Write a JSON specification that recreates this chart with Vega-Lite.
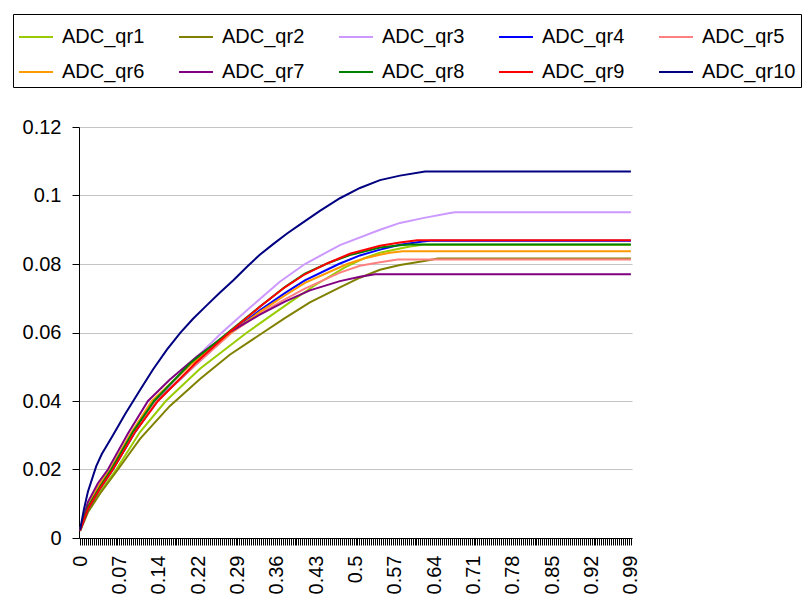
{
  "$schema": "https://vega.github.io/schema/vega-lite/v6.json",
  "width": 553,
  "height": 411,
  "autosize": {"type": "none"},
  "padding": {"left": 79, "top": 127, "right": 176, "bottom": 61},
  "background": "white",
  "config": {"font": "Liberation Sans", "view": {"stroke": null}},
  "data": {"values": [
    {"s":"ADC_qr1","t":0,"v":0.0022},{"s":"ADC_qr1","t":0.014,"v":0.008},{"s":"ADC_qr1","t":0.036,"v":0.0135},{"s":"ADC_qr1","t":0.065,"v":0.02},{"s":"ADC_qr1","t":0.108,"v":0.031},{"s":"ADC_qr1","t":0.154,"v":0.04},{"s":"ADC_qr1","t":0.216,"v":0.0495},{"s":"ADC_qr1","t":0.300,"v":0.06},{"s":"ADC_qr1","t":0.341,"v":0.0647},{"s":"ADC_qr1","t":0.377,"v":0.0688},{"s":"ADC_qr1","t":0.422,"v":0.0738},{"s":"ADC_qr1","t":0.476,"v":0.079},{"s":"ADC_qr1","t":0.512,"v":0.0818},{"s":"ADC_qr1","t":0.539,"v":0.0833},{"s":"ADC_qr1","t":0.575,"v":0.0845},{"s":"ADC_qr1","t":0.593,"v":0.0851},{"s":"ADC_qr1","t":0.616,"v":0.0856},{"s":"ADC_qr1","t":0.99,"v":0.0856},
    {"s":"ADC_qr2","t":0,"v":0.002},{"s":"ADC_qr2","t":0.014,"v":0.0075},{"s":"ADC_qr2","t":0.036,"v":0.013},{"s":"ADC_qr2","t":0.068,"v":0.02},{"s":"ADC_qr2","t":0.108,"v":0.029},{"s":"ADC_qr2","t":0.161,"v":0.0385},{"s":"ADC_qr2","t":0.216,"v":0.0465},{"s":"ADC_qr2","t":0.269,"v":0.0535},{"s":"ADC_qr2","t":0.329,"v":0.06},{"s":"ADC_qr2","t":0.368,"v":0.0642},{"s":"ADC_qr2","t":0.413,"v":0.0688},{"s":"ADC_qr2","t":0.467,"v":0.0732},{"s":"ADC_qr2","t":0.503,"v":0.076},{"s":"ADC_qr2","t":0.539,"v":0.0783},{"s":"ADC_qr2","t":0.575,"v":0.0797},{"s":"ADC_qr2","t":0.616,"v":0.0808},{"s":"ADC_qr2","t":0.643,"v":0.0816},{"s":"ADC_qr2","t":0.99,"v":0.0816},
    {"s":"ADC_qr3","t":0,"v":0.0025},{"s":"ADC_qr3","t":0.014,"v":0.0095},{"s":"ADC_qr3","t":0.036,"v":0.016},{"s":"ADC_qr3","t":0.057,"v":0.02},{"s":"ADC_qr3","t":0.090,"v":0.029},{"s":"ADC_qr3","t":0.136,"v":0.04},{"s":"ADC_qr3","t":0.198,"v":0.051},{"s":"ADC_qr3","t":0.255,"v":0.06},{"s":"ADC_qr3","t":0.305,"v":0.0672},{"s":"ADC_qr3","t":0.359,"v":0.0748},{"s":"ADC_qr3","t":0.404,"v":0.08},{"s":"ADC_qr3","t":0.467,"v":0.0855},{"s":"ADC_qr3","t":0.539,"v":0.09},{"s":"ADC_qr3","t":0.575,"v":0.092},{"s":"ADC_qr3","t":0.616,"v":0.0934},{"s":"ADC_qr3","t":0.665,"v":0.0949},{"s":"ADC_qr3","t":0.674,"v":0.0951},{"s":"ADC_qr3","t":0.99,"v":0.0951},
    {"s":"ADC_qr4","t":0,"v":0.0022},{"s":"ADC_qr4","t":0.014,"v":0.0085},{"s":"ADC_qr4","t":0.036,"v":0.0145},{"s":"ADC_qr4","t":0.059,"v":0.02},{"s":"ADC_qr4","t":0.099,"v":0.031},{"s":"ADC_qr4","t":0.138,"v":0.04},{"s":"ADC_qr4","t":0.207,"v":0.0505},{"s":"ADC_qr4","t":0.271,"v":0.06},{"s":"ADC_qr4","t":0.323,"v":0.0665},{"s":"ADC_qr4","t":0.368,"v":0.0715},{"s":"ADC_qr4","t":0.404,"v":0.0752},{"s":"ADC_qr4","t":0.465,"v":0.08},{"s":"ADC_qr4","t":0.503,"v":0.0825},{"s":"ADC_qr4","t":0.539,"v":0.0842},{"s":"ADC_qr4","t":0.575,"v":0.0856},{"s":"ADC_qr4","t":0.616,"v":0.0866},{"s":"ADC_qr4","t":0.629,"v":0.0868},{"s":"ADC_qr4","t":0.99,"v":0.0868},
    {"s":"ADC_qr5","t":0,"v":0.0025},{"s":"ADC_qr5","t":0.014,"v":0.009},{"s":"ADC_qr5","t":0.036,"v":0.015},{"s":"ADC_qr5","t":0.057,"v":0.02},{"s":"ADC_qr5","t":0.097,"v":0.031},{"s":"ADC_qr5","t":0.138,"v":0.04},{"s":"ADC_qr5","t":0.207,"v":0.0505},{"s":"ADC_qr5","t":0.273,"v":0.06},{"s":"ADC_qr5","t":0.323,"v":0.0655},{"s":"ADC_qr5","t":0.368,"v":0.0697},{"s":"ADC_qr5","t":0.404,"v":0.0728},{"s":"ADC_qr5","t":0.467,"v":0.0775},{"s":"ADC_qr5","t":0.503,"v":0.0795},{"s":"ADC_qr5","t":0.539,"v":0.0805},{"s":"ADC_qr5","t":0.571,"v":0.0813},{"s":"ADC_qr5","t":0.99,"v":0.0813},
    {"s":"ADC_qr6","t":0,"v":0.0025},{"s":"ADC_qr6","t":0.014,"v":0.0095},{"s":"ADC_qr6","t":0.036,"v":0.016},{"s":"ADC_qr6","t":0.054,"v":0.02},{"s":"ADC_qr6","t":0.091,"v":0.0305},{"s":"ADC_qr6","t":0.129,"v":0.04},{"s":"ADC_qr6","t":0.198,"v":0.0505},{"s":"ADC_qr6","t":0.271,"v":0.06},{"s":"ADC_qr6","t":0.323,"v":0.066},{"s":"ADC_qr6","t":0.368,"v":0.0708},{"s":"ADC_qr6","t":0.404,"v":0.0745},{"s":"ADC_qr6","t":0.480,"v":0.08},{"s":"ADC_qr6","t":0.512,"v":0.0817},{"s":"ADC_qr6","t":0.539,"v":0.0827},{"s":"ADC_qr6","t":0.557,"v":0.0833},{"s":"ADC_qr6","t":0.580,"v":0.0837},{"s":"ADC_qr6","t":0.99,"v":0.0837},
    {"s":"ADC_qr7","t":0,"v":0.0025},{"s":"ADC_qr7","t":0.014,"v":0.0105},{"s":"ADC_qr7","t":0.032,"v":0.016},{"s":"ADC_qr7","t":0.050,"v":0.02},{"s":"ADC_qr7","t":0.086,"v":0.0305},{"s":"ADC_qr7","t":0.122,"v":0.04},{"s":"ADC_qr7","t":0.161,"v":0.0462},{"s":"ADC_qr7","t":0.210,"v":0.053},{"s":"ADC_qr7","t":0.273,"v":0.0605},{"s":"ADC_qr7","t":0.323,"v":0.0652},{"s":"ADC_qr7","t":0.368,"v":0.069},{"s":"ADC_qr7","t":0.413,"v":0.0723},{"s":"ADC_qr7","t":0.467,"v":0.075},{"s":"ADC_qr7","t":0.503,"v":0.0763},{"s":"ADC_qr7","t":0.530,"v":0.077},{"s":"ADC_qr7","t":0.99,"v":0.077},
    {"s":"ADC_qr8","t":0,"v":0.0025},{"s":"ADC_qr8","t":0.014,"v":0.009},{"s":"ADC_qr8","t":0.036,"v":0.015},{"s":"ADC_qr8","t":0.056,"v":0.02},{"s":"ADC_qr8","t":0.095,"v":0.031},{"s":"ADC_qr8","t":0.133,"v":0.04},{"s":"ADC_qr8","t":0.198,"v":0.051},{"s":"ADC_qr8","t":0.266,"v":0.06},{"s":"ADC_qr8","t":0.323,"v":0.0675},{"s":"ADC_qr8","t":0.368,"v":0.0733},{"s":"ADC_qr8","t":0.404,"v":0.0772},{"s":"ADC_qr8","t":0.446,"v":0.0803},{"s":"ADC_qr8","t":0.485,"v":0.0826},{"s":"ADC_qr8","t":0.539,"v":0.0848},{"s":"ADC_qr8","t":0.575,"v":0.0855},{"s":"ADC_qr8","t":0.593,"v":0.0857},{"s":"ADC_qr8","t":0.99,"v":0.0857},
    {"s":"ADC_qr9","t":0,"v":0.0022},{"s":"ADC_qr9","t":0.014,"v":0.0085},{"s":"ADC_qr9","t":0.036,"v":0.0145},{"s":"ADC_qr9","t":0.059,"v":0.02},{"s":"ADC_qr9","t":0.099,"v":0.031},{"s":"ADC_qr9","t":0.140,"v":0.04},{"s":"ADC_qr9","t":0.207,"v":0.051},{"s":"ADC_qr9","t":0.268,"v":0.06},{"s":"ADC_qr9","t":0.323,"v":0.0675},{"s":"ADC_qr9","t":0.368,"v":0.0732},{"s":"ADC_qr9","t":0.404,"v":0.077},{"s":"ADC_qr9","t":0.446,"v":0.0803},{"s":"ADC_qr9","t":0.485,"v":0.083},{"s":"ADC_qr9","t":0.539,"v":0.0853},{"s":"ADC_qr9","t":0.575,"v":0.0863},{"s":"ADC_qr9","t":0.606,"v":0.0869},{"s":"ADC_qr9","t":0.99,"v":0.0869},
    {"s":"ADC_qr10","t":0,"v":0.0024},{"s":"ADC_qr10","t":0.007,"v":0.0085},{"s":"ADC_qr10","t":0.014,"v":0.0135},{"s":"ADC_qr10","t":0.029,"v":0.021},{"s":"ADC_qr10","t":0.039,"v":0.0245},{"s":"ADC_qr10","t":0.059,"v":0.03},{"s":"ADC_qr10","t":0.081,"v":0.0362},{"s":"ADC_qr10","t":0.108,"v":0.0433},{"s":"ADC_qr10","t":0.131,"v":0.0492},{"s":"ADC_qr10","t":0.156,"v":0.055},{"s":"ADC_qr10","t":0.180,"v":0.0599},{"s":"ADC_qr10","t":0.203,"v":0.064},{"s":"ADC_qr10","t":0.228,"v":0.068},{"s":"ADC_qr10","t":0.251,"v":0.0716},{"s":"ADC_qr10","t":0.275,"v":0.0752},{"s":"ADC_qr10","t":0.300,"v":0.0792},{"s":"ADC_qr10","t":0.323,"v":0.0827},{"s":"ADC_qr10","t":0.347,"v":0.0858},{"s":"ADC_qr10","t":0.372,"v":0.0889},{"s":"ADC_qr10","t":0.395,"v":0.0915},{"s":"ADC_qr10","t":0.431,"v":0.0955},{"s":"ADC_qr10","t":0.467,"v":0.0992},{"s":"ADC_qr10","t":0.503,"v":0.1022},{"s":"ADC_qr10","t":0.539,"v":0.1045},{"s":"ADC_qr10","t":0.575,"v":0.1058},{"s":"ADC_qr10","t":0.620,"v":0.107},{"s":"ADC_qr10","t":0.99,"v":0.107}
  ]},
  "mark": {"type": "line", "strokeWidth": 2, "clip": false},
  "encoding": {
    "x": {
      "field": "t", "type": "quantitative",
      "scale": {"domain": [-0.002, 0.992], "nice": false, "zero": false},
      "axis": {
        "title": null,
        "values": {"expr": "sequence(0, 0.9901, 0.99/280)"},
        "labelExpr": "round(datum.value*280/0.99) % 20 == 0 ? ['0','0.07','0.14','0.22','0.29','0.36','0.43','0.5','0.57','0.64','0.71','0.78','0.85','0.92','0.99'][round(datum.value*14/0.99)] : ''",
        "labelAngle": -90,
        "labelFontSize": 20,
        "labelColor": "black",
        "labelPadding": 10,
        "tickSize": 7,
        "tickColor": "black",
        "domainColor": "black",
        "grid": false,
        "labelOverlap": false,
        "labelFlush": false,
        "labelBound": false
      }
    },
    "y": {
      "field": "v", "type": "quantitative",
      "scale": {"domain": [0, 0.12], "nice": false},
      "axis": {
        "title": null,
        "values": [0, 0.02, 0.04, 0.06, 0.08, 0.1, 0.12],
        "labelExpr": "datum.value == 0 ? '0' : toString(round(datum.value*100)/100)",
        "labelFontSize": 20,
        "labelColor": "black",
        "labelPadding": 11,
        "tickSize": 7,
        "tickColor": "black",
        "domainColor": "black",
        "gridColor": "#c4c4c4",
        "labelOverlap": false
      }
    },
    "color": {
      "field": "s", "type": "nominal",
      "scale": {
        "domain": ["ADC_qr1","ADC_qr2","ADC_qr3","ADC_qr4","ADC_qr5","ADC_qr6","ADC_qr7","ADC_qr8","ADC_qr9","ADC_qr10"],
        "range": ["#99CC00","#808000","#CC99FF","#0000FF","#FF8080","#FF9900","#800080","#008000","#FF0000","#000080"]
      },
      "legend": {
        "title": null,
        "orient": "none",
        "legendX": -66,
        "legendY": -113,
        "direction": "horizontal",
        "columns": 5,
        "gridAlign": "all",
        "symbolType": "stroke",
        "symbolSize": 1156,
        "symbolStrokeWidth": 2,
        "labelFontSize": 20,
        "labelColor": "black",
        "labelOffset": 8,
        "labelLimit": 0,
        "columnPadding": 19,
        "rowPadding": 7,
        "padding": 5,
        "strokeColor": "black"
      }
    }
  }
}
